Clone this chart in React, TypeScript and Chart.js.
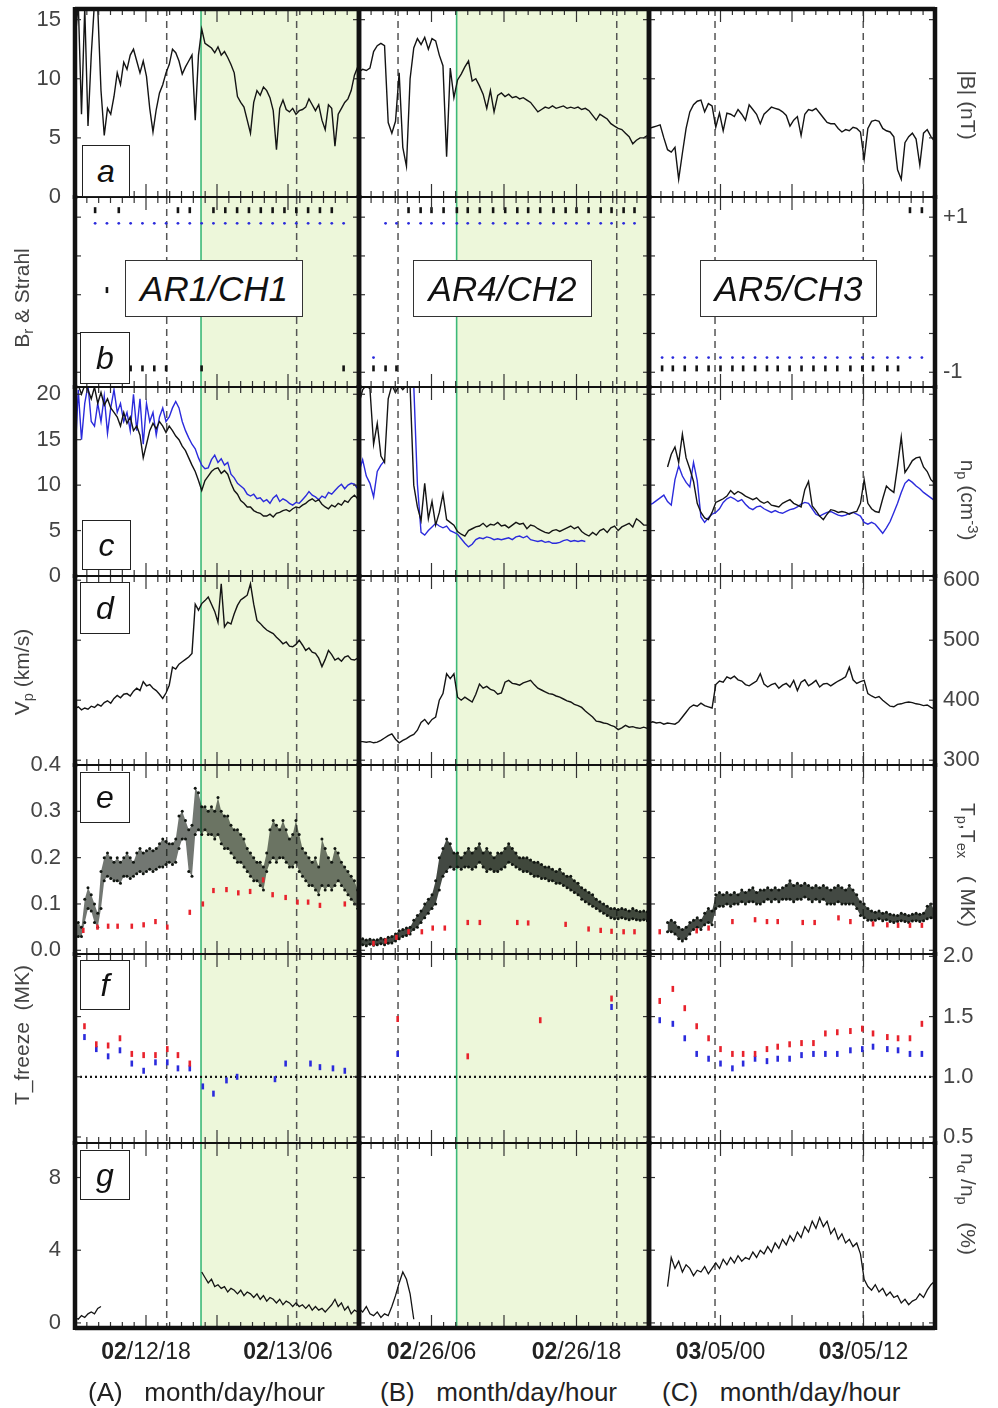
import React, { useEffect, useRef } from "react";
import { Chart, registerables } from "chart.js";

Chart.register(...registerables);

const FONT = '"Liberation Sans", Arial, Helvetica, sans-serif';

// ---------- time axis: hours within each 24-hour window ----------
const windowHours = [0, 24];
const sampleStep = [0.2746, 0.3021, 0.3113]; // hours between readings, windows A, B, C
const xTickHours = [6, 18];
const xTickLabels = [
  [["02", "/12/18"], ["02", "/13/06"]],
  [["02", "/26/06"], ["02", "/26/18"]],
  [["03", "/05/00"], ["03", "/05/12"]],
];
const eventLineHours = [[7.75, 18.73], [3.23, 21.33], [5.54, 17.98]];
const coronalHoleStart = [10.65, 8.08, null];
const captionLetters = ["(A)", "(B)", "(C)"];
const captionText = "month/day/hour";
const regionNames = ["AR1/CH1", "AR4/CH2", "AR5/CH3"];
const panelLetters = ["a", "b", "c", "d", "e", "f", "g"];

// ---------- tick values ----------
const bTicks = [0, 5, 10, 15];
const strahlTicks = [1, -1];
const strahlInner = [-1, -0.5, 0, 0.5, 1];
const npTicks = [0, 5, 10, 15, 20];
const vpTicks = [300, 400, 500, 600];
const tpTicks = [0, 0.1, 0.2, 0.3, 0.4];
const tfTicks = [0.5, 1.0, 1.5, 2.0];
const naTicks = [0, 4, 8];

// ---------- (a) |B| nT ----------
const magA = [13,16.5,7,16,6,12,16.5,16,9,5.2, 7.5,7,8.5,10.5,9.5,11.4,10.8,12,12.5,11.5, 10.5,11.5,10.2,7.5,5.5,7.4,8.8,9.5,10.5,11.2, 12.5,12.2,11.5,10.4,11,11.5,12,6.5,12,14.2, 13,12.8,12.6,12.2,12.7,12,12.3,11.8,11.2,10.5, 8.5,8,7.6,6.5,5.4,8,9,8.6,9.3,9, 8.4,7.3,4,7.5,8.2,7.4,7.2,7.5,7,7.3, 7.4,7.6,8.3,7.8,7.3,7.8,6.5,5.7,7.8,7.5, 4.3,7,7.5,8,8.3,9,10.3,11];
const magB = [10.6,10.8,10.7,10.9,12.3,12.8,13.0,12.8,6.3,5.4, 6.4,10.5,4.2,2.6,10.0,12.6,13.4,12.9,13.5,12.5, 13.4,13.2,12.0,11.1,3.4,10.9,8.4,9.9,10.4,11.0, 11.5,9.8,10.0,9.4,8.7,7.5,9.0,7.2,8.6,8.8, 8.5,8.7,8.4,8.5,8.3,8.4,8.2,8.0,7.6,7.2, 7.4,7.6,7.5,7.7,7.5,7.6,7.7,7.5,7.6,7.5, 7.6,7.4,7.5,7.3,6.9,6.5,7.0,6.8,6.6,6.2, 6.0,5.8,5.7,5.4,5.1,4.5,4.8,5.0,5.0,5.2];
const magC = [5.8,5.9,6.0,6.1,5.0,4.0,3.8,4.2,1.5,3.7, 5.8,7.2,7.8,8.1,8.2,7.2,7.9,7.7,5.9,7.1, 5.6,7.1,7.0,6.8,7.4,7.0,6.5,7.8,7.4,7.0, 6.2,7.0,7.3,7.6,7.5,7.4,7.2,6.9,6.0,6.5, 6.8,5.2,7.0,7.4,7.3,7.5,7.1,6.7,6.3,6.2, 6.2,5.8,5.5,5.7,5.6,5.9,5.8,5.5,3.2,5.8, 6.4,6.5,6.4,5.8,5.6,5.5,5.1,2.3,1.5,4.6, 5.1,5.4,4.9,2.7,5.4,5.7,5.1,4.7];

// ---------- (b) Br polarity (black) & strahl (blue) ----------
const brUpLevel = 1.09, strUpLevel = 0.92, strDownLevel = -0.81, brDownLevel = -0.95, brMidLevel = 0.06;
const brUpA = [1.7,3.7,8.7,9.7,11.7,12.7,13.7,14.7,15.7,16.7,17.7,18.7,19.7,20.7,21.7];
const strUpA = [1.7,2.7,3.7,4.7,5.7,6.7,7.7,8.7,9.7,10.7,11.7,12.7,13.7,14.7,15.7,16.7,17.7,18.7,19.7,20.7,21.7,22.7];
const brMidA = [2.7];
const brDownA = [4.7,5.7,6.7,7.7,10.7,22.7];
const strUpB = [2.2,3.1,4.1,5.1,6.0,7.0,8.1,9.0,10.0,11.1,12.1,13.1,14.0,15.0,16.1,17.1,18.0,19.0,20.0,20.9,21.9,22.8];
const brUpB = [4.1,5.1,6.0,7.0,8.1,9.0,10.0,11.1,12.1,13.1,14.0,15.0,16.1,17.1,18.0,19.0,20.0,20.9,21.9,22.8];
const brDownB = [1.2,2.2,3.1];
const strDownB = [1.2];
const strDownC = [1.1,2.0,3.0,4.0,5.0,6.0,7.0,7.9,8.9,9.9,10.8,11.8,12.8,13.8,14.8,15.8,16.9,17.9,18.8,20.0,20.9,21.9,22.9];
const brDownC = [1.1,2.0,3.0,4.0,5.0,6.0,7.0,7.9,8.9,9.9,10.8,11.8,12.8,13.8,14.8,15.8,16.9,17.9,18.8,20.0,20.9];
const brUpC = [21.9,22.9];

// ---------- (c) np cm^-3 (black) and second density (blue) ----------
const npA = [21,21,20,21,20.5,19.5,20.8,19,20.2,18.8, 19.5,18.5,18,17.5,16.5,18,16.8,17.5,16,16.5, 15.5,13,14.5,16,16.8,16.2,17,16.5,15.8,16.5, 16,15.4,15,14.3,13.8,13,12.2,11.5,10.5,9.4, 10.5,11,11.5,11.8,11.9,11.3,11.6,11.2,10.2,9.4, 9.0,8.3,8.0,7.6,7.6,7.2,7.0,6.9,6.6,6.6, 6.8,6.5,6.9,7.0,7.2,7.3,7.1,7.4,7.6,7.5, 7.8,8.0,8.3,8.5,8.2,8.4,7.9,7.6,7.4,7.8, 7.6,8.0,7.8,8.3,8.1,8.6,8.9,8.5];
const npBlueA = [13,20.5,15,19,21,17,16.5,19,17,19.8, 15.7,18.5,20.5,18,19,17,18,16,20,16, 19.5,14.5,19,17,18,15.5,17.5,18.5,17,17.5, 18.5,19.2,18.5,17,16,15.2,14.5,14,13,12.2, 11.8,11.9,12.8,13.3,12.5,12.9,12.2,12.5,11.2,10.8, 10.2,9.9,9.6,9.0,8.8,9.0,8.5,8.6,8.2,8.4, 8.0,8.6,8.9,8.2,8.5,8.3,8.0,7.8,8.1,8.0, 8.4,8.8,9.3,8.9,8.7,8.4,8.8,8.6,9.2,9.0, 9.4,9.8,10.1,9.6,10.0,10.2,10.1,9.6];
const npB = [19.0,20.5,21,20.6,14.5,16.8,13.2,12.5,19.5,21, 20.2,21,20.5,21,20.8,10.0,7.6,6.1,10.2,6.3, 8.2,5.6,7.0,9.0,6.2,5.9,5.6,4.9,4.6,4.4, 5.0,5.2,5.4,5.5,5.8,5.4,5.7,5.6,5.9,5.5, 5.6,5.3,5.6,5.9,5.7,5.8,5.2,5.6,5.5,5.2, 5.0,4.8,4.7,5.0,5.1,4.9,5.1,5.3,5.5,5.2, 5.4,4.9,4.6,4.4,4.8,4.5,5.0,5.2,4.8,5.3, 5.5,5.0,5.4,5.6,5.8,5.4,6.3,6.0,5.6,5.6];
const npBlueB = [11.5,12.8,11.0,10.2,8.7,11.5,12.2,12.7,null,null, null,null,null,null,21,21,10.1,4.8,4.5,5.0, 5.4,5.8,5.5,5.3,5.5,5.0,4.8,4.6,4.1,3.6, 3.2,3.5,4.0,4.2,4.1,4.3,4.2,4.0,4.1,4.0, 4.1,4.2,4.0,4.3,4.4,4.2,4.4,4.0,3.9,3.8, 3.9,3.7,3.8,3.6,3.6,3.7,3.9,4.0,3.8,3.9, 3.8,3.9,3.8];
const npC = [null,null,null,null,null,12.0,13.4,14.2,12.5,15.6, 13.0,11.8,10.4,8.0,7.0,6.4,6.2,7.0,8.1,8.3, 8.5,8.8,9.4,9.0,9.3,9.1,8.8,8.6,8.4,8.6, 8.2,8.0,8.2,7.8,7.7,7.6,8.0,8.2,8.4,8.0, 7.8,7.6,9.5,10.4,7.7,7.2,6.6,6.2,6.8,7.3, 7.2,7.0,7.1,7.0,6.8,7.0,7.1,8.0,10.6,8.0, 7.4,7.1,7.0,8.5,9.9,9.5,9.2,12.1,15.3,11.4, 12.0,12.7,13.0,13.1,12.0,11.5,10.6,10.2];
const npBlueC = [7.8,8.0,8.3,8.6,8.9,8.2,7.8,10.6,12.1,11.0, 10.3,9.8,12.5,10.5,6.5,5.9,6.4,6.8,7.0,7.4, 8.1,8.5,8.7,8.5,8.2,8.4,7.9,7.5,7.3,7.6, 7.7,7.4,7.2,7.0,7.2,7.0,6.9,7.1,7.3,7.4, 7.6,7.9,8.1,8.0,7.4,6.8,6.6,6.8,7.0,7.1, 6.9,6.7,6.6,6.7,6.9,7.0,6.8,6.6,5.9,5.7, 5.9,5.7,5.2,4.7,5.3,6.0,7.0,8.0,9.2,10.2, 10.6,10.3,9.9,9.6,9.2,8.9,8.6,8.3];

// ---------- (d) Vp km/s ----------
const vpA = [386,389,384,387,385,390,388,393,390,396, 399,395,403,408,404,410,411,407,415,420, 416,431,424,426,420,416,410,403,412,425, 455,452,460,464,468,472,478,560,550,561, 566,572,560,548,530,594,522,530,527,544, 558,567,571,575,594,560,533,528,522,517, 514,511,505,500,494,497,490,489,493,500, 492,483,487,480,478,470,456,468,483,476, 467,470,465,472,474,468,467,470];
const vpB = [331,331,330,331,329,330,333,337,341,344, 335,329,333,336,340,343,350,363,368,360, 368,372,400,411,444,436,444,405,400,405, 401,397,410,427,420,423,418,416,410,412, 430,433,428,427,425,429,431,433,426,420, 417,414,411,410,407,405,402,399,397,393, 391,388,382,377,372,365,364,362,361,358, 356,351,354,358,355,356,354,353,355,353];
const vpC = [362,364,362,363,360,362,361,360,364,372, 380,388,392,390,395,391,389,387,426,432, 430,439,436,440,434,432,426,424,428,432, 444,427,422,426,428,420,425,428,422,433, 416,430,434,424,428,433,422,427,428,424, 428,432,435,439,455,434,428,431,433,411, 407,404,406,400,395,390,389,393,394,396, 397,396,394,393,391,392,388,385];

// ---------- (e) Tp band (upper / lower edge) and Tex (red) ----------
const tpHiA = [0.065,0.06,0.05,0.11,0.135,0.12,0.10,0.08,0.17,0.20, 0.21,0.20,0.19,0.20,0.19,0.20,0.21,0.20,0.19,0.21, 0.22,0.21,0.215,0.22,0.215,0.22,0.23,0.24,0.235,0.23, 0.23,0.24,0.29,0.30,0.28,0.26,0.27,0.35,0.34,0.31, 0.31,0.30,0.31,0.30,0.33,0.30,0.29,0.29,0.27,0.26, 0.26,0.25,0.24,0.22,0.21,0.20,0.19,0.19,0.18,0.21, 0.26,0.28,0.27,0.26,0.28,0.26,0.24,0.25,0.28,0.25, 0.22,0.21,0.20,0.19,0.20,0.18,0.24,0.22,0.20,0.19, 0.22,0.21,0.19,0.18,0.17,0.16,0.15,0.13];
const tpLoA = [0.035,0.03,0.03,0.06,0.09,0.085,0.06,0.05,0.09,0.15, 0.16,0.155,0.15,0.15,0.145,0.16,0.16,0.155,0.16,0.165, 0.17,0.165,0.17,0.175,0.17,0.175,0.18,0.18,0.185,0.19, 0.185,0.19,0.22,0.24,0.24,0.17,0.16,0.25,0.26,0.25, 0.26,0.25,0.25,0.24,0.25,0.23,0.22,0.22,0.21,0.20, 0.19,0.19,0.18,0.17,0.16,0.15,0.15,0.14,0.13,0.17, 0.19,0.20,0.19,0.20,0.20,0.19,0.18,0.18,0.19,0.17, 0.16,0.15,0.14,0.14,0.13,0.12,0.14,0.13,0.14,0.13, 0.14,0.15,0.14,0.13,0.12,0.11,0.10,0.09];
const tpHiB = [0.022,0.025,0.022,0.024,0.022,0.023,0.026,0.024,0.028,0.030, 0.035,0.042,0.045,0.048,0.05,0.065,0.075,0.085,0.10,0.11, 0.12,0.15,0.20,0.22,0.24,0.23,0.21,0.21,0.20,0.21, 0.22,0.21,0.22,0.23,0.21,0.22,0.21,0.20,0.21,0.21, 0.22,0.23,0.22,0.21,0.20,0.20,0.20,0.195,0.19,0.19, 0.185,0.18,0.18,0.175,0.17,0.175,0.165,0.16,0.16,0.15, 0.145,0.135,0.13,0.125,0.12,0.11,0.105,0.10,0.095,0.09, 0.09,0.088,0.09,0.088,0.085,0.09,0.086,0.084,0.085,0.083];
const tpLoB = [0.012,0.012,0.010,0.013,0.011,0.012,0.014,0.012,0.015,0.016, 0.020,0.025,0.030,0.032,0.035,0.045,0.05,0.06,0.07,0.08, 0.09,0.10,0.13,0.16,0.17,0.18,0.175,0.18,0.175,0.18, 0.18,0.175,0.18,0.19,0.18,0.17,0.175,0.17,0.17,0.175, 0.18,0.19,0.185,0.18,0.175,0.17,0.17,0.165,0.16,0.16, 0.155,0.155,0.15,0.15,0.145,0.145,0.14,0.135,0.13,0.125, 0.12,0.11,0.105,0.10,0.095,0.09,0.085,0.08,0.075,0.07, 0.068,0.068,0.07,0.068,0.066,0.068,0.066,0.065,0.066,0.064];
const tpHiC = [null,null,null,null,null,0.06,0.065,0.06,0.05,0.045, 0.05,0.06,0.065,0.07,0.065,0.08,0.09,0.085,0.12,0.125, 0.12,0.125,0.12,0.125,0.12,0.13,0.125,0.13,0.135,0.125, 0.13,0.13,0.135,0.13,0.135,0.13,0.135,0.14,0.15,0.14, 0.145,0.14,0.145,0.14,0.135,0.14,0.135,0.14,0.135,0.13, 0.135,0.14,0.135,0.13,0.14,0.13,0.12,0.105,0.10,0.09, 0.085,0.082,0.085,0.08,0.082,0.078,0.076,0.075,0.08,0.078, 0.075,0.078,0.08,0.078,0.08,0.095,0.10,0.085];
const tpLoC = [null,null,null,null,null,0.04,0.04,0.035,0.025,0.02, 0.025,0.035,0.045,0.05,0.045,0.055,0.06,0.055,0.09,0.095, 0.095,0.10,0.095,0.10,0.10,0.105,0.10,0.105,0.105,0.10, 0.10,0.105,0.11,0.105,0.11,0.105,0.11,0.11,0.11,0.105, 0.11,0.11,0.115,0.11,0.105,0.11,0.105,0.11,0.10,0.10, 0.10,0.105,0.10,0.10,0.10,0.10,0.09,0.075,0.07,0.065, 0.065,0.065,0.068,0.064,0.066,0.062,0.06,0.062,0.064,0.062, 0.06,0.063,0.064,0.062,0.064,0.068,0.07,0.065];
const texHoursA = [0.7,1.9,2.8,3.6,4.8,5.8,6.8,7.8,9.7,10.8,11.7,12.8,13.8,14.8,15.9,16.7,17.8,18.8,19.7,20.7,22.8];
const texA = [0.043,0.05,0.052,0.052,0.052,0.055,0.062,0.05,0.082,0.10,0.129,0.131,0.124,0.127,0.152,0.12,0.114,0.104,0.104,0.097,0.10];
const texHoursB = [1.2,2.2,3.1,4.1,5.2,6.1,7.1,9.0,10.0,13.1,14.0,17.1,19.0,20.0,20.9,21.9,22.8];
const texB = [0.015,0.02,0.028,0.04,0.04,0.048,0.048,0.06,0.06,0.06,0.059,0.056,0.046,0.043,0.041,0.04,0.04];
const texHoursC = [0.9,4.0,5.0,7.0,8.9,9.9,10.8,12.9,13.9,15.9,16.9,18.8,20.0,20.9,21.9,22.9];
const texC = [0.04,0.042,0.048,0.062,0.066,0.062,0.062,0.06,0.06,0.07,0.062,0.057,0.055,0.054,0.054,0.054];

// ---------- (f) freeze-in temperatures (red / blue) ----------
const freezeRef = 1.0;
const tfRedHoursA = [0.8,1.8,2.8,3.8,4.8,5.8,6.8,7.8,8.7,9.7];
const tfRedA = [1.42,1.27,1.26,1.32,1.19,1.18,1.18,1.23,1.18,1.11];
const tfBlueHoursA = [0.8,1.8,2.8,3.8,4.8,5.8,6.8,7.8,8.7,9.7,10.8,11.7,12.8,13.7,16.9,17.8,19.9,20.7,21.8,22.8];
const tfBlueA = [1.33,1.23,1.17,1.22,1.11,1.05,1.12,1.12,1.07,1.07,0.92,0.86,0.97,1.0,0.98,1.11,1.11,1.08,1.07,1.05];
const tfRedHoursB = [3.2,9.0,15.0,20.9];
const tfRedB = [1.48,1.17,1.47,1.65];
const tfBlueHoursB = [3.2,20.9];
const tfBlueB = [1.19,1.58];
const tfHoursC = [0.9,2.0,3.0,4.0,5.0,6.0,7.0,7.9,8.9,9.9,10.8,11.8,12.8,13.8,14.8,15.8,16.9,17.9,18.8,20.0,20.9,21.9,22.9];
const tfRedC = [1.63,1.73,1.57,1.42,1.32,1.23,1.19,1.19,1.19,1.23,1.25,1.27,1.28,1.28,1.36,1.37,1.38,1.40,1.36,1.33,1.32,1.32,1.44];
const tfBlueC = [1.47,1.44,1.32,1.19,1.15,1.11,1.07,1.11,1.15,1.13,1.15,1.15,1.18,1.19,1.19,1.19,1.22,1.23,1.25,1.23,1.22,1.19,1.19];

// ---------- (g) n_alpha / n_p % ----------
const naA = [0.3,0.2,0.4,0.3,0.5,0.6,0.5,0.8,0.9, null,null,null,null,null,null,null,null,null,null, null,null,null,null,null,null,null,null,null,null, null,null,null,null,null,null,null,null,null,null, 2.8,2.5,2.2,2.4,2.0,2.1,1.9,2.0,1.7,1.9, 1.8,1.6,1.8,1.5,1.7,1.6,1.4,1.6,1.3,1.5, 1.2,1.4,1.3,1.1,1.3,1.0,1.2,1.1,0.9,1.1, 0.9,1.0,0.8,1.0,0.7,0.9,0.7,0.8,0.6,0.8, 1.0,1.3,0.9,1.1,0.7,0.9,0.5,0.7,0.6];
const naB = [0.8,0.6,0.9,0.5,0.4,0.6,0.3,0.5,0.4,0.9, 1.5,2.2,2.8,2.4,1.6,0.2];
const naC = [null,null,null,null,null,2.0,3.6,3.0,3.4,2.8, 3.2,3.0,2.6,2.9,2.8,3.1,2.7,3.0,3.3,3.0, 3.5,3.2,3.6,3.3,3.7,3.4,3.6,3.5,3.9,3.6, 4.0,3.8,4.2,3.9,4.4,4.1,4.6,4.3,4.8,4.5, 5.0,4.7,5.3,5.0,5.6,5.2,5.8,5.3,5.6,4.9, 5.2,4.6,4.9,4.4,4.6,4.2,4.4,3.8,2.4,2.0, 1.8,2.1,1.7,1.9,1.5,1.7,1.4,1.5,1.1,1.3, 1.0,1.2,1.3,1.6,1.4,1.8,2.1,2.3];

// ---------- styling ----------
const BLACK = "#141414";
const BLUE = "#2b2bdc";
const RED = "#e8222c";
const SHADE = "rgb(237,247,218)";
const SHADE_EDGE = "rgb(60,185,120)";

// ---------- layout (page px) ----------
const colEdges = [75, 359, 649, 935];
const rowEdges = [9, 197, 387, 576, 765, 954, 1143, 1328];

const rowCfg = [
  { min: 0, max: 15.9, left: bTicks, right: null, inner: bTicks, fmt: (v) => String(v) },
  { min: -1.19, max: 1.26, left: null, right: strahlTicks, inner: strahlInner, fmt: (v) => (v > 0 ? "+1" : "-1") },
  { min: 0, max: 20.8, left: npTicks, right: null, inner: npTicks, fmt: (v) => String(v) },
  { min: 292, max: 607, left: null, right: vpTicks, inner: vpTicks, fmt: (v) => String(v) },
  { min: -0.008, max: 0.4, left: tpTicks, right: null, inner: tpTicks, fmt: (v) => v.toFixed(1) },
  { min: 0.45, max: 2.02, left: null, right: tfTicks, inner: tfTicks, fmt: (v) => v.toFixed(1) },
  { min: -0.28, max: 9.9, left: naTicks, right: null, inner: naTicks, fmt: (v) => String(v) },
];

// ---------- helpers building Chart.js data ----------
const onGrid = (vals, step) => vals.map((v, i) => ({ x: i * step, y: v }));
const atLevel = (hours, level) => hours.map((h) => ({ x: h, y: level }));
const paired = (hours, vals) => hours.map((h, i) => ({ x: h, y: vals[i] }));

const lineDs = (data, color, width = 1.3, extra = {}) => ({
  data, borderColor: color, backgroundColor: color, borderWidth: width,
  pointRadius: 0, tension: 0, fill: false, spanGaps: false, ...extra,
});
const dashDs = (data, color, r = 3) => ({
  data, showLine: false, pointStyle: "line", pointRotation: 90, pointRadius: r,
  pointBorderWidth: 2.6, pointBorderColor: color, pointBackgroundColor: color,
  borderColor: color, backgroundColor: color,
});
const dotDs = (data, color, r = 1.4) => ({
  data, showLine: false, pointStyle: "circle", pointRadius: r,
  pointBorderWidth: 0, pointBackgroundColor: color, borderColor: color, backgroundColor: color,
});

const magSeries = [magA, magB, magC];
const npSeries = [npA, npB, npC];
const npBlueSeries = [npBlueA, npBlueB, npBlueC];
const vpSeries = [vpA, vpB, vpC];
const tpHiSeries = [tpHiA, tpHiB, tpHiC];
const tpLoSeries = [tpLoA, tpLoB, tpLoC];
const texPairs = [[texHoursA, texA], [texHoursB, texB], [texHoursC, texC]];
const naSeries = [naA, naB, naC];

function panelDatasets(r, c) {
  const st = sampleStep[c];
  if (r === 0) return [lineDs(onGrid(magSeries[c], st), BLACK, 1.4)];
  if (r === 1) {
    if (c === 0)
      return [
        dashDs(atLevel(brUpA, brUpLevel), BLACK),
        dashDs(atLevel(brMidA, brMidLevel), BLACK),
        dashDs(atLevel(brDownA, brDownLevel), BLACK),
        dotDs(atLevel(strUpA, strUpLevel), BLUE),
      ];
    if (c === 1)
      return [
        dashDs(atLevel(brUpB, brUpLevel), BLACK),
        dashDs(atLevel(brDownB, brDownLevel), BLACK),
        dotDs(atLevel(strUpB, strUpLevel), BLUE),
        dotDs(atLevel(strDownB, strDownLevel), BLUE),
      ];
    return [
      dashDs(atLevel(brDownC, brDownLevel), BLACK),
      dashDs(atLevel(brUpC, brUpLevel), BLACK),
      dotDs(atLevel(strDownC, strDownLevel), BLUE),
    ];
  }
  if (r === 2)
    return [
      lineDs(onGrid(npSeries[c], st), BLACK, 1.4),
      lineDs(onGrid(npBlueSeries[c], st), BLUE, 1.4),
    ];
  if (r === 3) return [lineDs(onGrid(vpSeries[c], st), BLACK, 1.4)];
  if (r === 4) {
    const alpha = c === 0 ? 0.6 : 0.8;
    return [
      dashDs(paired(texPairs[c][0], texPairs[c][1]), RED, 2.6),
      {
        data: onGrid(tpLoSeries[c], st), borderWidth: 0, borderColor: BLACK,
        pointRadius: 1.5, pointBorderWidth: 0, pointBackgroundColor: "#111611", fill: false, spanGaps: false,
      },
      {
        data: onGrid(tpHiSeries[c], st), borderWidth: 0, borderColor: BLACK,
        backgroundColor: `rgba(20,28,20,${alpha})`,
        pointRadius: 1.5, pointBorderWidth: 0, pointBackgroundColor: "#111611", fill: "-1", spanGaps: false,
      },
    ];
  }
  if (r === 5) {
    const ref = lineDs(atLevel(windowHours, freezeRef), BLACK, 2.2, { borderDash: [2, 3] });
    if (c === 0) return [dashDs(paired(tfRedHoursA, tfRedA), RED), dashDs(paired(tfBlueHoursA, tfBlueA), BLUE), ref];
    if (c === 1) return [dashDs(paired(tfRedHoursB, tfRedB), RED), dashDs(paired(tfBlueHoursB, tfBlueB), BLUE), ref];
    return [dashDs(paired(tfHoursC, tfRedC), RED), dashDs(paired(tfHoursC, tfBlueC), BLUE), ref];
  }
  return [lineDs(onGrid(naSeries[c], st), BLACK, 1.3)];
}

function makeDecor(r, c) {
  const seg = (ctx, x1, y1, x2, y2) => {
    ctx.beginPath();
    ctx.moveTo(x1, y1);
    ctx.lineTo(x2, y2);
    ctx.stroke();
  };
  return {
    id: "decor",
    beforeDatasetsDraw(chart) {
      const { ctx, chartArea: a } = chart;
      const x = chart.scales.x;
      ctx.save();
      const sh = coronalHoleStart[c];
      if (sh != null) {
        const x0 = x.getPixelForValue(sh);
        ctx.fillStyle = SHADE;
        ctx.fillRect(x0, a.top, a.right - x0, a.bottom - a.top);
        ctx.strokeStyle = SHADE_EDGE;
        ctx.lineWidth = 1.6;
        seg(ctx, x0, a.top, x0, a.bottom);
      }
      ctx.setLineDash([7, 5]);
      ctx.strokeStyle = "#555";
      ctx.lineWidth = 1.5;
      for (const h of eventLineHours[c]) {
        const px = x.getPixelForValue(h);
        seg(ctx, px, a.top, px, a.bottom);
      }
      ctx.restore();
    },
    afterDatasetsDraw(chart) {
      const { ctx, chartArea: a } = chart;
      const x = chart.scales.x;
      const y = chart.scales.y;
      ctx.save();
      ctx.strokeStyle = "#333";
      ctx.lineWidth = 1.2;
      for (let h = windowHours[0] + 1; h < windowHours[1]; h++) {
        const px = x.getPixelForValue(h);
        const len = h % 6 === 0 ? 13 : 6;
        seg(ctx, px, a.top, px, a.top + len);
        seg(ctx, px, a.bottom, px, a.bottom - len);
      }
      for (const v of rowCfg[r].inner) {
        const py = y.getPixelForValue(v);
        seg(ctx, a.left, py, a.left + 6, py);
        seg(ctx, a.right, py, a.right - 6, py);
      }
      ctx.strokeStyle = "#111";
      ctx.lineWidth = r === 0 ? 4.5 : 2;
      seg(ctx, a.left, a.top, a.right, a.top);
      ctx.lineWidth = r === 6 ? 4.5 : 2;
      seg(ctx, a.left, a.bottom, a.right, a.bottom);
      ctx.lineWidth = 4.5;
      seg(ctx, a.left, a.top - 2, a.left, a.bottom + 2);
      seg(ctx, a.right, a.top - 2, a.right, a.bottom + 2);
      if (r === 6) {
        ctx.fillStyle = "#222";
        ctx.textBaseline = "middle";
        ctx.textAlign = "left";
        xTickHours.forEach((h, k) => {
          const [bold, rest] = xTickLabels[c][k];
          const px = x.getPixelForValue(h);
          ctx.font = `bold 23px ${FONT}`;
          const w1 = ctx.measureText(bold).width;
          ctx.font = `23px ${FONT}`;
          const w2 = ctx.measureText(rest).width;
          const sx = px - (w1 + w2) / 2;
          ctx.font = `bold 23px ${FONT}`;
          ctx.fillText(bold, sx, a.bottom + 25);
          ctx.font = `23px ${FONT}`;
          ctx.fillText(rest, sx + w1, a.bottom + 25);
        });
      }
      ctx.restore();
    },
  };
}

function Panel({ r, c }) {
  const ref = useRef(null);
  const cfg = rowCfg[r];
  const sideTicks = c === 0 ? cfg.left : c === 2 ? cfg.right : null;
  const hasAxis = !!sideTicks;
  const padL = c === 0 ? 75 : 8;
  const padR = c === 2 ? 63 : 8;
  const padT = 34;
  const padB = r === 6 ? 48 : 34;
  const areaL = colEdges[c], areaR = colEdges[c + 1];
  const areaT = rowEdges[r], areaB = rowEdges[r + 1];
  const W = areaR - areaL + padL + padR;
  const H = areaB - areaT + padT + padB;

  useEffect(() => {
    const chart = new Chart(ref.current, {
      type: "line",
      data: { datasets: panelDatasets(r, c) },
      options: {
        animation: false,
        responsive: false,
        maintainAspectRatio: false,
        devicePixelRatio: 1,
        events: [],
        layout: {
          padding: {
            left: hasAxis && c === 0 ? 0 : padL,
            right: hasAxis && c === 2 ? 0 : padR,
            top: padT,
            bottom: padB,
          },
        },
        plugins: { legend: { display: false }, tooltip: { enabled: false } },
        scales: {
          x: { type: "linear", min: windowHours[0], max: windowHours[1], display: false },
          y: {
            type: "linear",
            min: cfg.min,
            max: cfg.max,
            display: hasAxis,
            position: c === 2 ? "right" : "left",
            grid: { display: false, drawTicks: false },
            border: { display: false },
            ticks: {
              color: "#444",
              font: { family: FONT, size: 22 },
              padding: c === 0 ? 14 : 8,
              autoSkip: false,
              callback: (v) => cfg.fmt(Number(v)),
            },
            afterBuildTicks: (s) => {
              s.ticks = (sideTicks || []).map((v) => ({ value: v }));
            },
            afterFit: (s) => {
              s.width = hasAxis ? (c === 0 ? padL : padR) : 0;
            },
          },
        },
      },
      plugins: [makeDecor(r, c)],
    });
    return () => chart.destroy();
  }, []);

  return (
    <canvas
      ref={ref}
      width={W}
      height={H}
      style={{ position: "absolute", left: areaL - padL, top: areaT - padT, width: W, height: H }}
    />
  );
}

const Sub = ({ children }) => (
  <sub style={{ fontSize: "0.7em", verticalAlign: "-0.3em", lineHeight: 0 }}>{children}</sub>
);
const Sup = ({ children }) => (
  <sup style={{ fontSize: "0.7em", verticalAlign: "0.5em", lineHeight: 0 }}>{children}</sup>
);

const AxisTitle = ({ cx, cy, rot, children }) => (
  <div
    style={{
      position: "absolute", left: cx, top: cy,
      transform: `translate(-50%, -50%) rotate(${rot}deg)`,
      whiteSpace: "pre", fontSize: 21, color: "#444", lineHeight: "24px",
    }}
  >
    {children}
  </div>
);

const letterBoxes = [
  [82, 145, 48, 52], [80, 332, 50, 52], [82, 520, 49, 50], [80, 582, 50, 52],
  [80, 772, 50, 51], [80, 960, 50, 50], [80, 1150, 50, 50],
];
const regionBoxes = [[125, 260, 178, 57], [413, 260, 179, 57], [700, 260, 177, 57]];
const captionLeft = [88, 380, 662];

export default function App() {
  const panels = [];
  for (let r = 0; r < 7; r++) for (let c = 0; c < 3; c++) panels.push(<Panel key={`${r}-${c}`} r={r} c={c} />);
  return (
    <div
      style={{
        position: "absolute", left: 0, top: 0, width: 998, height: 1408,
        background: "#fff", overflow: "hidden", fontFamily: FONT,
      }}
    >
      {panels}
      {letterBoxes.map(([l, t, w, h], i) => (
        <div
          key={"lb" + i}
          style={{
            position: "absolute", left: l, top: t, width: w, height: h, boxSizing: "border-box",
            background: "#fff", border: "1.5px solid #222", display: "flex",
            alignItems: "center", justifyContent: "center",
            fontStyle: "italic", fontSize: 32, color: "#111",
          }}
        >
          {panelLetters[i]}
        </div>
      ))}
      {regionBoxes.map(([l, t, w, h], i) => (
        <div
          key={"rb" + i}
          style={{
            position: "absolute", left: l, top: t, width: w, height: h, boxSizing: "border-box",
            background: "#fff", border: "1.5px solid #333", display: "flex",
            alignItems: "center", justifyContent: "center",
            fontStyle: "italic", fontSize: 35, color: "#111",
          }}
        >
          {regionNames[i]}
        </div>
      ))}
      <AxisTitle cx={22} cy={298} rot={-90}>B<Sub>r</Sub> &amp; Strahl</AxisTitle>
      <AxisTitle cx={22} cy={672} rot={-90}>V<Sub>p</Sub> (km/s)</AxisTitle>
      <AxisTitle cx={22} cy={1035} rot={-90}>{"T_freeze  (MK)"}</AxisTitle>
      <AxisTitle cx={968} cy={105} rot={90}>|B| (nT)</AxisTitle>
      <AxisTitle cx={968} cy={500} rot={90}>n<Sub>p</Sub> (cm<Sup>-3</Sup>)</AxisTitle>
      <AxisTitle cx={968} cy={865} rot={90}>T<Sub>p</Sub>,T<Sub>ex</Sub>{"   ( MK)"}</AxisTitle>
      <AxisTitle cx={968} cy={1204} rot={90}>n<Sub>α</Sub> /n<Sub>p</Sub>{"   (%)"}</AxisTitle>
      {captionLeft.map((l, i) => (
        <div
          key={"cap" + i}
          style={{
            position: "absolute", left: l, top: 1376, whiteSpace: "pre",
            fontSize: 26, color: "#222", lineHeight: "32px",
          }}
        >
          {captionLetters[i] + "   " + captionText}
        </div>
      ))}
    </div>
  );
}
